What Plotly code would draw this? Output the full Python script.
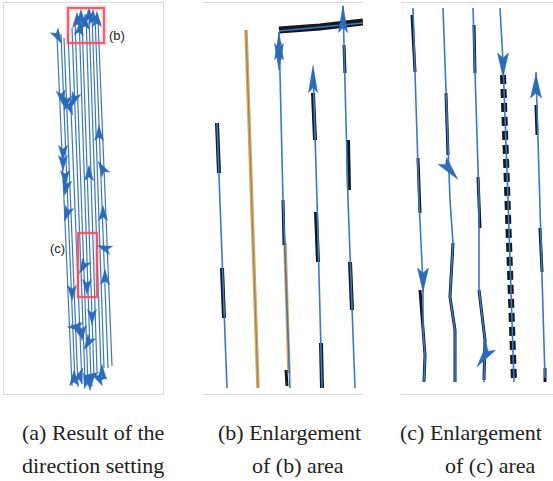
import math
import plotly.graph_objects as go

# ---------------- data (image pixel coordinates) ----------------
# Panel (a): traced direction lines (top point -> bottom point)
a_top_x = [57, 61, 64, 68, 72, 75, 79, 82, 86, 89, 92, 95, 98]
a_top_y = [36, 34, 38, 33, 28, 22, 16, 20, 14, 16, 14, 16, 20]
a_bot_x = [72, 75, 78, 82, 85, 88, 91, 94, 97, 101, 104, 108, 112]
a_bot_y = [386, 382, 387, 384, 380, 385, 381, 376, 372, 370, 368, 368, 366]
# Panel (a): direction arrows
a_arrow_x = [77, 81, 85, 89, 93, 97, 80, 58, 62, 66, 70, 74, 99, 63, 63, 102, 89, 65, 66, 67,
             103, 104, 105, 83, 87, 72, 92, 75, 82, 88, 78, 74, 80, 86, 92, 98, 102, 90]
a_arrow_y = [20, 17, 22, 15, 17, 19, 28, 37, 98, 103, 108, 100, 133, 153, 163, 168, 173, 178, 188, 214,
             213, 248, 277, 267, 287, 293, 317, 327, 333, 343, 330, 378, 375, 380, 376, 378, 372, 383]
a_arrow_ang = [0, 0, 0, 0, 0, 0, 10, 150, 170, 190, 160, 200, 0, 180, 180, 330, 0, 180, 190, 200,
               0, 290, 0, 210, 180, 180, 180, 270, 180, 210, 160, 0, 20, 340, 60, 300, 0, 180]
# Red highlight boxes in (a): x0, y0, x1, y1
box_x0 = [68, 78]
box_y0 = [8, 233]
box_x1 = [104, 97]
box_y1 = [43, 297]
box_label = ["(b)", "(c)"]
box_label_x = [117, 57]
box_label_y = [35, 248]

# Panel (b): blue tracks
b_tracks = [
    ([217, 227], [123, 388]),
    ([279, 283, 290], [32, 200, 388]),
    ([279, 363], [31, 23]),
    ([313, 317, 322], [70, 200, 388]),
    ([343, 348, 355], [6, 200, 388]),
]
b_orange_track_x = [246, 252, 258]
b_orange_track_y = [30, 200, 388]
b_orange = [
    ([246, 252, 258], [30, 200, 388]),
    ([280, 281], [42, 60]),
    ([285, 289], [243, 373]),
]
b_black = [
    ([217, 219], [123, 173], 4),
    ([222, 224], [268, 318], 4),
    ([279, 320, 363], [30, 27, 22], 7),
    ([283, 284], [200, 245], 3),
    ([313, 315], [93, 140], 4),
    ([316, 318], [212, 262], 4),
    ([321, 322], [343, 388], 4),
    ([344, 345], [45, 73], 3),
    ([348, 349], [140, 190], 4),
    ([350, 352], [262, 310], 4),
    ([286, 287], [370, 386], 3),
]
b_arrow_x = [279, 279, 313, 343]
b_arrow_y = [46, 57, 79, 19]
b_arrow_ang = [0, 180, 0, 0]

# Panel (c): blue tracks
c_tracks = [
    ([413, 419, 423, 423, 425, 424], [8, 200, 285, 330, 355, 382]),
    ([443, 450, 453, 450, 455, 455], [8, 200, 243, 297, 330, 382]),
    ([473, 479, 479, 485, 484], [8, 200, 290, 340, 382]),
    ([500, 503, 508, 514], [8, 62, 200, 382]),
    ([536, 540, 545], [72, 200, 378]),
]
c_black = [
    ([412, 415], [15, 72], 3),
    ([418, 420], [158, 213], 3),
    ([420, 423, 425, 424], [290, 330, 355, 382], 3),
    ([446, 448], [93, 155], 3),
    ([453, 450, 455, 455], [243, 297, 330, 382], 3),
    ([474, 475], [25, 73], 3),
    ([478, 480], [177, 228], 3),
    ([479, 485, 484], [290, 340, 380], 3),
    ([536, 537], [105, 135], 3),
    ([540, 542], [228, 272], 3),
    ([545, 545], [368, 382], 3),
]
c_dashed_x = [503, 508, 514]
c_dashed_y = [75, 200, 382]
c_arrow_x = [503, 536, 450, 423, 484]
c_arrow_y = [65, 86, 170, 280, 357]
c_arrow_ang = [180, 0, 140, 180, 215]

captions = [
    ("(a) Result of the", 20, 432),
    ("direction setting", 20, 465),
    ("(b) Enlargement", 216, 432),
    ("of (b) area", 250, 465),
    ("(c) Enlargement", 398, 432),
    ("of (c) area", 443, 465),
]

# ---------------- styles ----------------
BLUE = "#3A78C6"
ARROW = "#2B6BB8"
BLACK = "#14171C"
ORANGE = "#E8A444"
FRAME = "#DADADA"
W, H = 553, 481


def arrow_polys(xs, ys, angs, length, width, notch):
    """Dart-shaped arrowheads (axes are 1 unit = 1 px, y downwards)."""
    px, py = [], []
    for cx, cy, a in zip(xs, ys, angs):
        r = math.radians(a)
        dx, dy = math.sin(r), -math.cos(r)
        nx, ny = -dy, dx
        tip = (cx + dx * length / 2, cy + dy * length / 2)
        bx, by = cx - dx * length / 2, cy - dy * length / 2
        l = (bx + nx * width / 2, by + ny * width / 2)
        rr = (bx - nx * width / 2, by - ny * width / 2)
        nt = (bx + dx * notch, by + dy * notch)
        for p in (tip, l, nt, rr, tip):
            px.append(p[0])
            py.append(p[1])
        px.append(None)
        py.append(None)
    return px, py


fig = go.Figure()

# panel (a) lines
xs, ys = [], []
for x0, y0, x1, y1 in zip(a_top_x, a_top_y, a_bot_x, a_bot_y):
    xs += [x0, x1, None]
    ys += [y0, y1, None]
fig.add_trace(go.Scatter(x=xs, y=ys, mode="lines", line=dict(color=BLUE, width=1.2),
                         xaxis="x", yaxis="y", hoverinfo="skip"))
px, py = arrow_polys(a_arrow_x, a_arrow_y, a_arrow_ang, 15, 9, 3.5)
fig.add_trace(go.Scatter(x=px, y=py, mode="lines", fill="toself", fillcolor=ARROW,
                         line=dict(color=ARROW, width=0.5),
                         xaxis="x", yaxis="y", hoverinfo="skip"))

# panel (b)
for xx, yy in b_orange:
    fig.add_trace(go.Scatter(x=xx, y=yy, mode="lines", line=dict(color=ORANGE, width=3.5),
                             xaxis="x2", yaxis="y2", hoverinfo="skip"))
for xx, yy, w in b_black:
    fig.add_trace(go.Scatter(x=xx, y=yy, mode="lines", line=dict(color=BLACK, width=w),
                             xaxis="x2", yaxis="y2", hoverinfo="skip"))
fig.add_trace(go.Scatter(x=b_orange_track_x, y=b_orange_track_y, mode="lines",
                         line=dict(color="#6E86A6", width=1),
                         xaxis="x2", yaxis="y2", hoverinfo="skip"))
for xx, yy in b_tracks:
    fig.add_trace(go.Scatter(x=xx, y=yy, mode="lines", line=dict(color=BLUE, width=1.6),
                             xaxis="x2", yaxis="y2", hoverinfo="skip"))
px, py = arrow_polys(b_arrow_x, b_arrow_y, b_arrow_ang, 27, 9, 5)
fig.add_trace(go.Scatter(x=px, y=py, mode="lines", fill="toself", fillcolor=ARROW,
                         line=dict(color=ARROW, width=0.5),
                         xaxis="x2", yaxis="y2", hoverinfo="skip"))

# panel (c)
for xx, yy, w in c_black:
    fig.add_trace(go.Scatter(x=xx, y=yy, mode="lines", line=dict(color=BLACK, width=w),
                             xaxis="x3", yaxis="y3", hoverinfo="skip"))
fig.add_trace(go.Scatter(x=c_dashed_x, y=c_dashed_y, mode="lines",
                         line=dict(color=BLACK, width=6, dash="9px,5px"),
                         xaxis="x3", yaxis="y3", hoverinfo="skip"))
for xx, yy in c_tracks:
    fig.add_trace(go.Scatter(x=xx, y=yy, mode="lines", line=dict(color=BLUE, width=1.6),
                             xaxis="x3", yaxis="y3", hoverinfo="skip"))
px, py = arrow_polys(c_arrow_x, c_arrow_y, c_arrow_ang, 24, 11, 5)
fig.add_trace(go.Scatter(x=px, y=py, mode="lines", fill="toself", fillcolor=ARROW,
                         line=dict(color=ARROW, width=0.5),
                         xaxis="x3", yaxis="y3", hoverinfo="skip"))

# red highlight boxes + labels in (a)
shapes = []
for x0, y0, x1, y1 in zip(box_x0, box_y0, box_x1, box_y1):
    shapes.append(dict(type="rect", xref="x", yref="y", x0=x0, y0=y0, x1=x1, y1=y1,
                       line=dict(color="rgba(240,130,140,0.35)", width=5)))
    shapes.append(dict(type="rect", xref="x", yref="y", x0=x0, y0=y0, x1=x1, y1=y1,
                       line=dict(color="rgba(232,80,92,0.85)", width=2)))

annotations = []
for t, x, y in zip(box_label, box_label_x, box_label_y):
    annotations.append(dict(text=t, x=x, y=y, xref="x", yref="y", showarrow=False,
                            font=dict(family="Liberation Sans, Arial", size=13, color="#222"),
                            xanchor="center", yanchor="middle"))
for t, x, y in captions:
    annotations.append(dict(text=t, x=x / W, y=1 - y / H, xref="paper", yref="paper",
                            showarrow=False, xanchor="left", yanchor="middle",
                            font=dict(family="Liberation Serif, Times New Roman, serif",
                                      size=22, color="#222")))


def ax(domain, rng, line=True, mirror=True):
    return dict(domain=domain, range=rng, showgrid=False, zeroline=False, showticklabels=False,
                ticks="", showline=line, mirror=mirror, linecolor=FRAME, linewidth=1,
                fixedrange=True)


fig.update_layout(
    width=W, height=H, margin=dict(l=0, r=0, t=0, b=0),
    paper_bgcolor="white", plot_bgcolor="white", showlegend=False,
    xaxis=ax([4 / W, 163 / W], [4, 163]),
    yaxis=ax([1 - 394 / H, 1 - 3 / H], [394, 3]),
    xaxis2=ax([203 / W, 363 / W], [203, 363]),
    yaxis2=ax([1 - 389 / H, 1 - 5 / H], [389, 5]),
    xaxis3=ax([401 / W, 1], [401, 553]),
    yaxis3=ax([1 - 387 / H, 1 - 3 / H], [387, 3], mirror=False),
    shapes=shapes, annotations=annotations,
)
fig.write_html("out.html", config={"displayModeBar": False},
               post_script="document.body.style.margin='0';document.body.style.overflow='hidden';")
